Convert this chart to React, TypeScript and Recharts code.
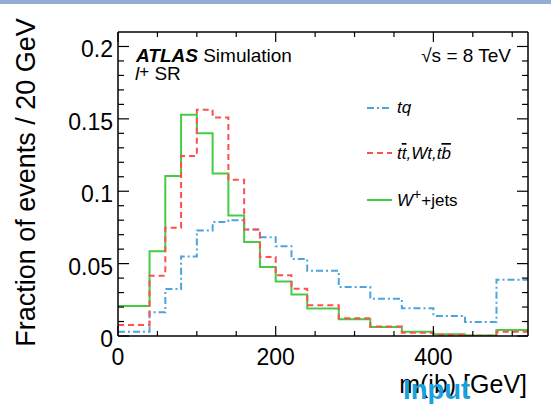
import { ComposedChart, Line, XAxis, YAxis, Legend } from 'recharts'

// bin edges in GeV (variable width, last edge closes the histogram)
const BIN_EDGES = [0, 40, 60, 80, 100, 120, 140, 160, 180, 200, 220, 240, 280, 320, 360, 400, 440, 480, 520]

// fraction of events per bin
const TQ = [0.003, 0.0164, 0.0324, 0.055, 0.0729, 0.0787, 0.08, 0.0736, 0.0683, 0.062, 0.0532, 0.0451, 0.0338, 0.0257, 0.0192, 0.0139, 0.0097, 0.0389]
const TTBAR = [0.0076, 0.0417, 0.0748, 0.1243, 0.1563, 0.151, 0.108, 0.0736, 0.0546, 0.0419, 0.0326, 0.0213, 0.0123, 0.0065, 0.0023, 0.0009, 0.0002, 0.003]
const WJETS = [0.0208, 0.0585, 0.1106, 0.1528, 0.14, 0.1123, 0.0833, 0.065, 0.0477, 0.0377, 0.0287, 0.019, 0.0116, 0.0063, 0.003, 0.0012, 0.0003, 0.0042]

const X_MAJOR = [0, 200, 400]
const X_TICKS = [0, 50, 100, 150, 200, 250, 300, 350, 400, 450, 500]
const Y_MAJOR = [0, 0.05, 0.1, 0.15, 0.2]
const Y_TICKS = Array.from({ length: 21 }, (_, i) => i / 100)

const BLUE = '#4ba4dc'
const RED = '#ff4f4f'
const GREEN = '#44cc44'

const data = BIN_EDGES.map((x, i) => {
  const j = Math.min(i, TQ.length - 1)
  return { x, tq: TQ[j], ttbar: TTBAR[j], wjets: WJETS[j] }
})

const FONT = '"Liberation Sans", Arial, Helvetica, sans-serif'

const isMajor = (list: number[], v: number) => list.some((m) => Math.abs(m - v) < 1e-9)

function XTick(props: any) {
  const { x, y, payload, side } = props
  const v = payload.value as number
  const major = isMajor(X_MAJOR, v)
  const len = major ? 10 : 5
  const dir = side === 'bottom' ? -1 : 1
  return (
    <g>
      <line x1={x} x2={x} y1={y} y2={y + dir * len} stroke="#000" strokeWidth={1.2} />
      {side === 'bottom' && major && (
        <text x={x} y={y + 29} textAnchor="middle" fontSize={23} fill="#000">
          {v}
        </text>
      )}
    </g>
  )
}

function YTick(props: any) {
  const { x, y, payload, side } = props
  const v = payload.value as number
  const major = isMajor(Y_MAJOR, v)
  const len = major ? 11 : 6
  const dir = side === 'left' ? 1 : -1
  return (
    <g>
      <line x1={x} x2={x + dir * len} y1={y} y2={y} stroke="#000" strokeWidth={1.2} />
      {side === 'left' && major && (
        <text x={x - 5} y={y + 11} textAnchor="end" fontSize={23} fill="#000">
          {String(Math.round(v * 100) / 100)}
        </text>
      )}
    </g>
  )
}

function LegendBox() {
  return (
    <svg width={180} height={130} style={{ overflow: 'visible', fontFamily: FONT }}>
      <line x1={7} x2={32} y1={18} y2={18} stroke={BLUE} strokeWidth={2} strokeDasharray="7 3 2 3" />
      <text x={37} y={23} fontSize={17} fontStyle="italic" fill="#000">tq</text>

      <line x1={7} x2={32} y1={63} y2={63} stroke={RED} strokeWidth={2} strokeDasharray="6 4" />
      <text x={37} y={69} fontSize={17} fontStyle="italic" fill="#000">
        t<tspan style={{ textDecoration: 'overline' }}>t</tspan>,Wt,t<tspan style={{ textDecoration: 'overline' }}>b</tspan>
      </text>

      <line x1={7} x2={32} y1={110} y2={110} stroke={GREEN} strokeWidth={2} />
      <text x={37} y={116} fontSize={17} fill="#000">
        <tspan fontStyle="italic">W</tspan>
        <tspan dy={-7} fontSize={14}>+</tspan>
        <tspan dy={7}>+jets</tspan>
      </text>
    </svg>
  )
}

export default function App() {
  return (
    <div
      style={{
        position: 'absolute', left: 0, top: 0, width: 551, height: 404,
        background: '#fff', overflow: 'hidden', fontFamily: FONT,
      }}
    >
      <div style={{ position: 'absolute', left: 0, top: 0, width: 551, height: 4, background: '#93aed2', zIndex: 2 }} />
      <ComposedChart width={551} height={404} data={data} margin={{ top: 31, right: 22, bottom: 0, left: 0 }}>
        <XAxis
          dataKey="x" type="number" domain={[0, 520]} allowDataOverflow
          ticks={X_TICKS} interval={0} height={68}
          tickSize={0} tickMargin={0} tickLine={false}
          axisLine={{ stroke: '#000', strokeWidth: 1.5 }}
          tick={(p: any) => <XTick {...p} side="bottom" />}
        />
        <XAxis
          xAxisId="top" dataKey="x" orientation="top" type="number" domain={[0, 520]} allowDataOverflow
          ticks={X_TICKS} interval={0} height={1}
          tickSize={0} tickMargin={0} tickLine={false}
          axisLine={{ stroke: '#000', strokeWidth: 1.5 }}
          tick={(p: any) => <XTick {...p} side="top" />}
        />
        <YAxis
          type="number" domain={[0, 0.21]} allowDataOverflow
          ticks={Y_TICKS} interval={0} width={118}
          tickSize={0} tickMargin={0} tickLine={false}
          axisLine={{ stroke: '#000', strokeWidth: 1.5 }}
          tick={(p: any) => <YTick {...p} side="left" />}
        />
        <YAxis
          yAxisId="right" orientation="right" type="number" domain={[0, 0.21]} allowDataOverflow
          ticks={Y_TICKS} interval={0} width={1}
          tickSize={0} tickMargin={0} tickLine={false}
          axisLine={{ stroke: '#000', strokeWidth: 1.5 }}
          tick={(p: any) => <YTick {...p} side="right" />}
        />
        <Legend
          layout="vertical" align="center" verticalAlign="middle"
          wrapperStyle={{ left: 360, top: 90, width: 180, height: 130 }}
          content={() => <LegendBox />}
        />
        {/* invisible series bound to the frame axes so that they are drawn */}
        <Line xAxisId="top" yAxisId="right" dataKey="tq" stroke="none" strokeOpacity={0} dot={false} activeDot={false} legendType="none" isAnimationActive={false} />
        <Line dataKey="tq" type="stepAfter" stroke={BLUE} strokeWidth={2} strokeDasharray="7 3 2 3" dot={false} activeDot={false} isAnimationActive={false} />
        <Line dataKey="wjets" type="stepAfter" stroke={GREEN} strokeWidth={2} dot={false} activeDot={false} isAnimationActive={false} />
        <Line dataKey="ttbar" type="stepAfter" stroke={RED} strokeWidth={2} strokeDasharray="6 4" dot={false} activeDot={false} isAnimationActive={false} />
      </ComposedChart>

      <svg width={551} height={404} style={{ position: 'absolute', left: 0, top: 0, pointerEvents: 'none' }}>
        <text transform="translate(35,182.5) rotate(-90)" textAnchor="middle" fontSize={27} fill="#000">
          Fraction of events / 20 GeV
        </text>
        <text x={527} y={393} textAnchor="end" fontSize={25} fill="#000">m(ib) [GeV]</text>
        <text x={403} y={398.5} fontSize={27.5} fontWeight="bold" fill="#1a9fdf">Input</text>

        <text x={136} y={61.7} fontSize={19} fill="#000">
          <tspan fontWeight="bold" fontStyle="italic">ATLAS</tspan> Simulation
        </text>
        <text x={135} y={80} fontSize={19} fill="#000">
          <tspan fontStyle="italic">l</tspan>
          <tspan dy={-3} fontSize={17}>+</tspan>
          <tspan dy={3}> SR</tspan>
        </text>
        <text x={511} y={61.7} textAnchor="end" fontSize={19} fill="#000">√s = 8 TeV</text>
      </svg>
    </div>
  )
}
